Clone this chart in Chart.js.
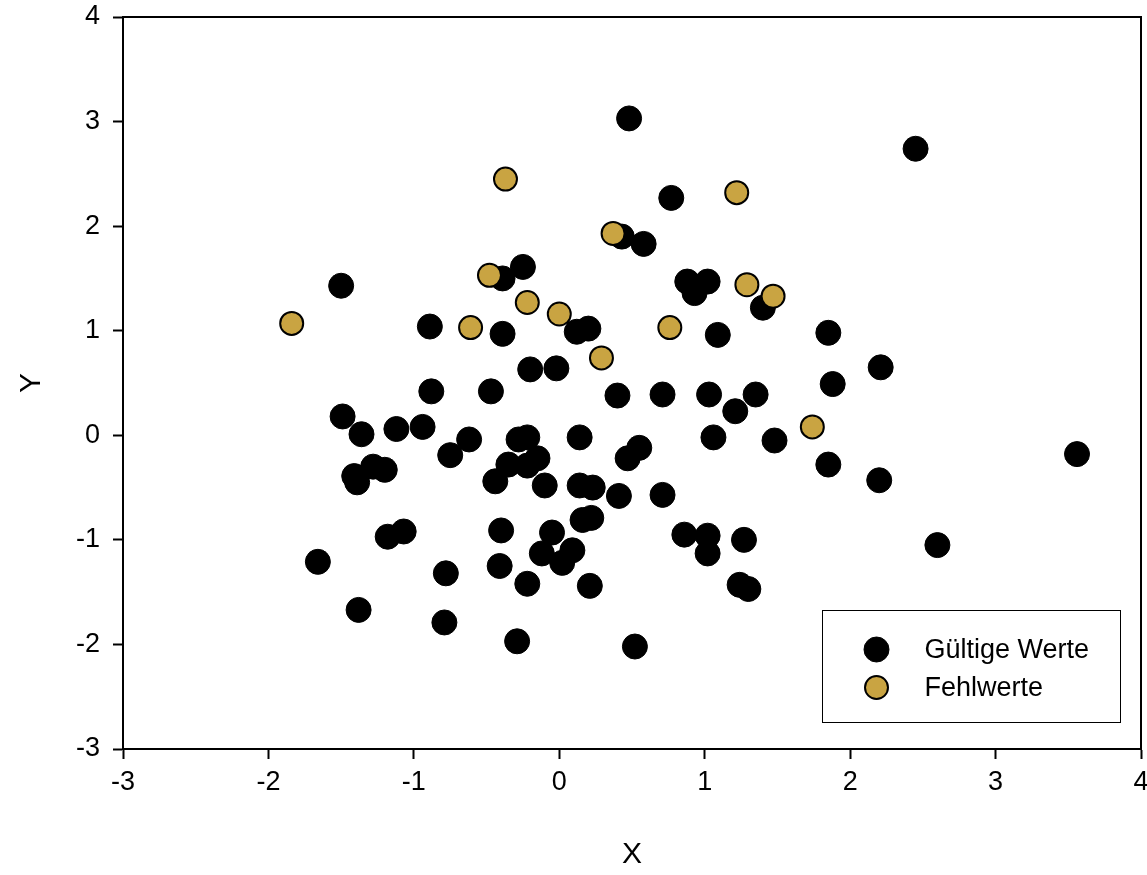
<!DOCTYPE html>
<html>
<head>
<meta charset="utf-8">
<script src="https://cdn.jsdelivr.net/npm/chart.js@4.4.1/dist/chart.umd.min.js"></script>
<style>
  html, body { margin: 0; padding: 0; background: #fff; }
  #chart { display: block; }
</style>
</head>
<body>
<canvas id="chart" width="1147" height="875"></canvas>
<script>
// tick values on both axes
const xTicks = [-3, -2, -1, 0, 1, 2, 3, 4];
const yTicks = [-3, -2, -1, 0, 1, 2, 3, 4];

// Gültige Werte (valid values)
const validX = [0.48, 2.45, 0.77, 0.43, 0.58, -0.25, -0.39, -1.50, 0.88, 1.02, 0.93, 1.40, -0.89, -0.39, 0.12, 0.20, 1.09, 1.85, -0.20, -0.02,
    2.21, -0.88, -0.47, 0.40, 0.71, 1.03, 1.35, 1.88, 1.21, -1.49, -1.36, -1.12, -0.94, -0.62, 0.14, -0.28, -0.22, -0.15, -0.35, -0.22,
    -0.44, -0.10, -0.75, 0.47, 0.55, 0.14, 0.23, 0.41, 0.71, 1.06, 1.48, 1.85, 2.20, 3.56, -1.41, -1.39, -1.28, -1.20, -1.18, -1.07,
    -1.66, -1.38, -0.78, -0.79, -0.29, -0.40, -0.41, -0.22, 0.16, 0.22, -0.05, -0.12, 0.09, 0.02, 0.21, 0.52, 0.86, 1.02, 1.02, 1.27,
    1.24, 1.30, 2.60];
const validY = [3.03, 2.74, 2.27, 1.90, 1.83, 1.61, 1.50, 1.43, 1.47, 1.47, 1.36, 1.22, 1.04, 0.97, 0.99, 1.02, 0.96, 0.98, 0.63, 0.64,
    0.65, 0.42, 0.42, 0.38, 0.39, 0.39, 0.39, 0.49, 0.23, 0.18, 0.01, 0.06, 0.08, -0.04, -0.02, -0.04, -0.02, -0.22, -0.28, -0.29,
    -0.44, -0.48, -0.19, -0.22, -0.12, -0.48, -0.50, -0.58, -0.57, -0.02, -0.05, -0.28, -0.43, -0.18, -0.39, -0.45, -0.30, -0.33, -0.97, -0.92,
    -1.21, -1.67, -1.32, -1.79, -1.97, -0.91, -1.25, -1.42, -0.81, -0.79, -0.93, -1.13, -1.10, -1.22, -1.44, -2.02, -0.95, -0.96, -1.13, -1.00,
    -1.43, -1.47, -1.05];

// Fehlwerte (missing values)
const missingX = [-0.37, 1.22, 0.37, -0.48, -0.22, -1.84, -0.61, 0.00, 0.29, 0.76, 1.29, 1.47, 1.74];
const missingY = [2.45, 2.32, 1.93, 1.53, 1.27, 1.07, 1.03, 1.16, 0.74, 1.03, 1.44, 1.33, 0.08];

const FONT = 'Liberation Sans, Arial, sans-serif';
const GOLD = '#C9A442';

const zip = (xs, ys) => xs.map((x, i) => ({ x: x, y: ys[i] }));

// frame on top and right + legend box inside the plot
const framePlugin = {
    id: 'frame',
    beforeDatasetsDraw(chart) {
        const { ctx, chartArea: a } = chart;
        ctx.save();
        ctx.strokeStyle = '#000';
        ctx.lineWidth = 2;
        ctx.beginPath();
        ctx.moveTo(a.left, a.top);
        ctx.lineTo(a.right, a.top);
        ctx.lineTo(a.right, a.bottom);
        ctx.stroke();
        ctx.restore();
    },
    afterDatasetsDraw(chart) {
        const { ctx, chartArea: a } = chart;
        const w = 298, h = 112;
        const bx = Math.round(a.right - 21 - w) + 0.5;
        const by = Math.round(a.bottom - 27 - h) + 0.5;
        ctx.save();
        ctx.fillStyle = '#fff';
        ctx.fillRect(bx, by, w, h);
        ctx.strokeStyle = '#000';
        ctx.lineWidth = 1;
        ctx.strokeRect(bx, by, w, h);
        ctx.font = '27px ' + FONT;
        ctx.textBaseline = 'middle';
        ctx.textAlign = 'left';
        chart.data.datasets.forEach((ds, i) => {
            const cy = by + 39 + i * 38;
            ctx.beginPath();
            ctx.arc(bx + 54, cy, ds.pointRadius, 0, Math.PI * 2);
            ctx.fillStyle = ds.backgroundColor;
            ctx.fill();
            ctx.lineWidth = ds.borderWidth;
            ctx.strokeStyle = ds.borderColor;
            ctx.stroke();
            ctx.fillStyle = '#000';
            ctx.fillText(ds.label, bx + 102, cy + 1);
        });
        ctx.restore();
    }
};

new Chart(document.getElementById('chart'), {
    type: 'scatter',
    data: {
        datasets: [
            { label: 'Gültige Werte', data: zip(validX, validY), order: 1,
              backgroundColor: '#000', borderColor: '#000', borderWidth: 1, pointRadius: 12.5, pointHoverRadius: 12.5 },
            { label: 'Fehlwerte', data: zip(missingX, missingY), order: 0,
              backgroundColor: GOLD, borderColor: '#000', borderWidth: 2, pointRadius: 11.5, pointHoverRadius: 11.5 }
        ]
    },
    options: {
        responsive: false,
        animation: false,
        devicePixelRatio: 1,
        layout: { autoPadding: false, padding: { top: 17, right: 6, left: 0, bottom: 0 } },
        plugins: { legend: { display: false }, tooltip: { enabled: false } },
        scales: {
            x: {
                type: 'linear', min: -3, max: 4,
                afterBuildTicks: s => { s.ticks = xTicks.map(v => ({ value: v })); },
                afterFit: s => { s.height = 126; s.paddingLeft = 0; s.paddingRight = 0; },
                grid: { drawOnChartArea: false, drawTicks: true, tickLength: 10, tickWidth: 2, tickColor: '#000' },
                border: { display: true, color: '#000', width: 2 },
                ticks: { color: '#000', padding: 7, maxRotation: 0, font: { family: FONT, size: 27 } },
                title: { display: true, text: 'X', color: '#000', font: { family: FONT, size: 30 }, padding: { bottom: 2 } }
            },
            y: {
                type: 'linear', min: -3, max: 4,
                afterBuildTicks: s => { s.ticks = yTicks.map(v => ({ value: v })); },
                afterFit: s => { s.width = 123; s.paddingTop = 0; s.paddingBottom = 0; },
                grid: { drawOnChartArea: false, drawTicks: true, tickLength: 10, tickWidth: 2, tickColor: '#000' },
                border: { display: true, color: '#000', width: 2 },
                ticks: { color: '#000', padding: 13, font: { family: FONT, size: 27 } },
                title: { display: true, text: 'Y', color: '#000', font: { family: FONT, size: 30 }, padding: { top: 14 } }
            }
        }
    },
    plugins: [framePlugin]
});
</script>
</body>
</html>
